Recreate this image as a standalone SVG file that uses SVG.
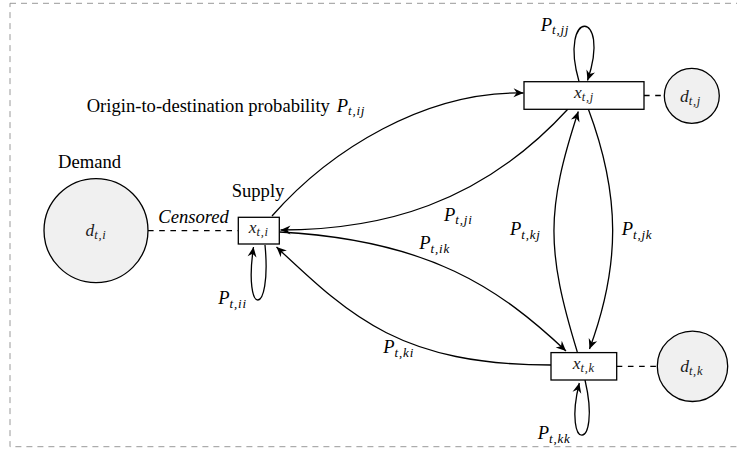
<svg xmlns="http://www.w3.org/2000/svg" width="737" height="450" viewBox="0 0 737 450">
<style>
.t{font-family:"Liberation Serif","Times New Roman",serif;fill:#000}
.lbl{font-size:18.6px}
.m{font-family:"Liberation Serif","Times New Roman",serif;font-style:italic;fill:#000;font-size:18.5px}
.sub{font-size:13px;letter-spacing:0.8px}
.nm{font-family:"Liberation Serif","Times New Roman",serif;font-style:italic;fill:#1a1a1a;font-size:17.5px}
.nsub{font-size:12.5px;letter-spacing:0.7px}
.box{fill:#fff;stroke:#000;stroke-width:1.3}
.dem{fill:#f0f0f0;stroke:#000;stroke-width:1.3}
.edge{fill:none;stroke:#000;stroke-width:1.3;marker-end:url(#arr)}
.dash{fill:none;stroke:#000;stroke-width:1.3;stroke-dasharray:5.6 5.6}
</style>
<defs>
<marker id="arr" viewBox="-11 -6 12 12" refX="0" refY="0" markerWidth="12" markerHeight="12" markerUnits="userSpaceOnUse" orient="auto">
<path d="M0,0 L-10,-4.5 L-6.8,0 L-10,4.5 Z" fill="#000"/>
</marker>
</defs>
<rect x="10" y="3.3" width="730" height="443.4" fill="none" stroke="#999" stroke-width="1" stroke-dasharray="6 5"/>

<g id="connectors">
<path class="dash" d="M148,230.6 L238.3,230.6"/>
<path class="dash" d="M644,95.5 L664.3,95.5"/>
<path class="dash" d="M616.7,366.3 L657.3,366.3"/>
<path class="edge" d="M272,216 C330,150 425,91 523.5,93"/>
<path class="edge" d="M568,109 C480,205 380,230 280.5,230"/>
<path class="edge" d="M279.5,232 C430,240 500,289 566,351"/>
<path class="edge" d="M551,365 C400,365 350,316 276.5,247"/>
<path class="edge" d="M577.3,352 C546,250 546,210 578.3,111.5"/>
<path class="edge" d="M588.3,109 C620.6,195 620.6,265 589.5,349"/>
<path class="edge" d="M265,245 C272,318 243,318 253.5,247"/>
<path class="edge" d="M579,81.5 C558,8 612,8 587.5,80.5"/>
<path class="edge" d="M585,380 C602,453 562,453 579.3,383"/>
</g>

<g id="node-xi"><rect class="box" x="238.3" y="217.3" width="41" height="26.7"/><text class="nm" x="258.8" y="233" text-anchor="middle">x<tspan class="nsub" dy="3">t,i</tspan></text></g>
<g id="node-xj"><rect class="box" x="524" y="81.7" width="120" height="27.6"/><text class="nm" x="584" y="98" text-anchor="middle">x<tspan class="nsub" dy="3">t,j</tspan></text></g>
<g id="node-xk"><rect class="box" x="551" y="352.6" width="65.7" height="27.4"/><text class="nm" x="583.8" y="368.5" text-anchor="middle">x<tspan class="nsub" dy="3">t,k</tspan></text></g>
<g id="node-di"><circle class="dem" cx="96" cy="230.6" r="52"/><text class="nm" x="96" y="235.5" text-anchor="middle">d<tspan class="nsub" dy="3">t,i</tspan></text></g>
<g id="node-dj"><circle class="dem" cx="691.8" cy="95.8" r="27.5"/><text class="nm" x="690.5" y="101.5" text-anchor="middle">d<tspan class="nsub" dy="3">t,j</tspan></text></g>
<g id="node-dk"><circle class="dem" cx="692.5" cy="366.3" r="35.2"/><text class="nm" x="691.7" y="371.8" text-anchor="middle">d<tspan class="nsub" dy="3">t,k</tspan></text></g>

<g id="labels">
<text class="t lbl" x="58" y="168.3">Demand</text>
<text class="t lbl" x="231.7" y="196.5">Supply</text>
<text class="t lbl" x="158.3" y="222.7" font-style="italic">Censored</text>
<text class="t lbl" x="86.7" y="111.7">Origin-to-destination probability</text>
<text class="m" x="336.7" y="111.7">P<tspan class="sub" dy="3.5">t,ij</tspan></text>
<text class="m" x="540.7" y="30.7">P<tspan class="sub" dy="3.5">t,jj</tspan></text>
<text class="m" x="218.3" y="304">P<tspan class="sub" dy="3.5">t,ii</tspan></text>
<text class="m" x="444" y="220.7">P<tspan class="sub" dy="3.5">t,ji</tspan></text>
<text class="m" x="419.3" y="249.3">P<tspan class="sub" dy="3.5">t,ik</tspan></text>
<text class="m" x="510" y="235">P<tspan class="sub" dy="3.5">t,kj</tspan></text>
<text class="m" x="621.7" y="235">P<tspan class="sub" dy="3.5">t,jk</tspan></text>
<text class="m" x="383.3" y="353.3">P<tspan class="sub" dy="3.5">t,ki</tspan></text>
<text class="m" x="537.7" y="439.3">P<tspan class="sub" dy="3.5">t,kk</tspan></text>
</g>
</svg>
